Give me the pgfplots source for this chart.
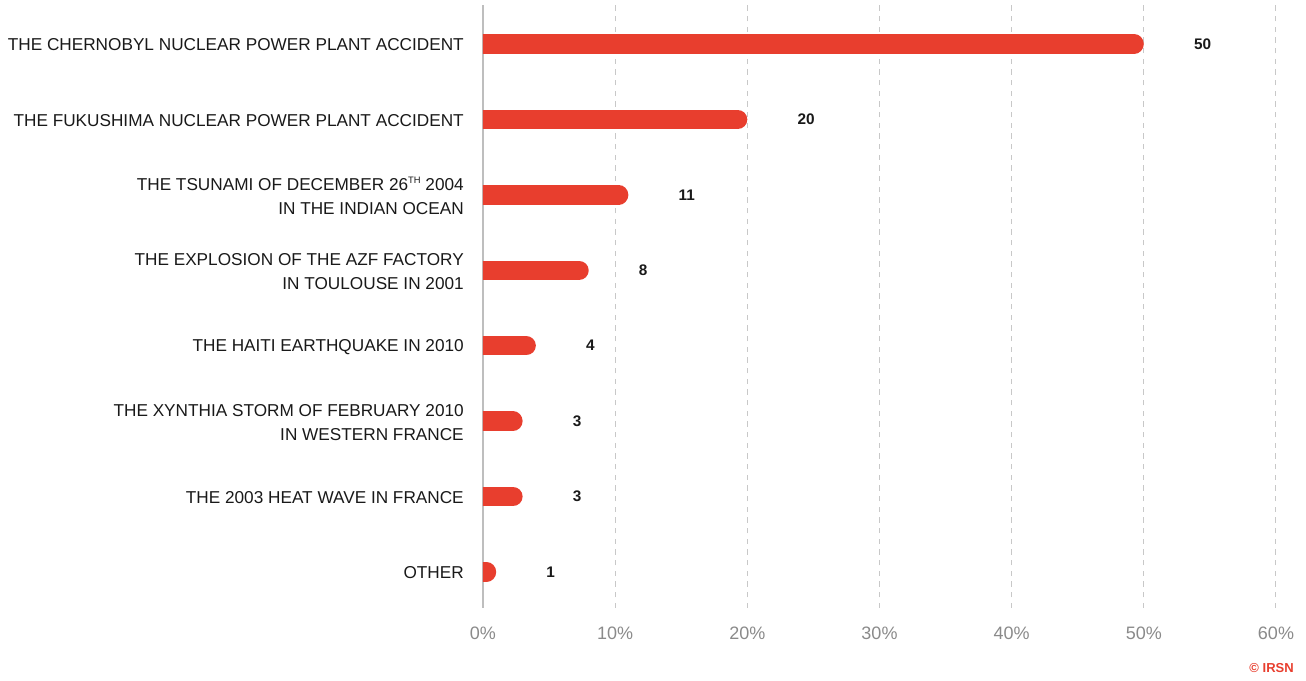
\documentclass[border=0pt]{standalone}
\usepackage{fontspec}
\setmainfont{Liberation Sans}
\usepackage{pgfplots}
\pgfplotsset{compat=1.18}
\definecolor{barred}{RGB}{232,62,46}
\definecolor{gridgray}{RGB}{200,200,200}
\definecolor{axisgray}{RGB}{190,190,190}
\definecolor{tickgray}{RGB}{138,138,138}
\definecolor{labelblack}{RGB}{25,25,25}

\pgfplotsset{
  roundbar/.style={draw=barred, line width=14.5pt, line cap=round, shorten >=7.25pt},
}

\begin{document}
\begin{tikzpicture}
\begin{axis}[
  scale only axis, width=594.75pt, height=452.25pt,
  xmin=0, xmax=60, ymin=-0.477, ymax=7.517,
  axis line style={draw=none},
  major tick length=0pt,
  xtick={10,20,30,40,50,60},
  xticklabels={10\%,20\%,30\%,40\%,50\%,60\%},
  extra x ticks={0}, extra x tick labels={0\%},
  extra x tick style={grid style={solid, draw=axisgray, line width=0.9pt}},
  xmajorgrids, grid style={draw=gridgray, line width=0.75pt, dash pattern=on 4pt off 4pt},
  xticklabel style={font=\fontsize{13.5}{16}\selectfont, text=tickgray, anchor=center, inner sep=0pt, yshift=-18.75pt},
  ytick={0,1,2,3,4,5,6,7},
  yticklabels={
    OTHER,
    THE 2003 HEAT WAVE IN FRANCE,
    THE XYNTHIA STORM OF FEBRUARY 2010\\IN WESTERN FRANCE,
    THE HAITI EARTHQUAKE IN 2010,
    THE EXPLOSION OF THE AZF FACTORY\\IN TOULOUSE IN 2001,
    THE TSUNAMI OF DECEMBER 26\raisebox{0.75ex}{\fontsize{7}{8}\selectfont TH} 2004\\IN THE INDIAN OCEAN,
    THE FUKUSHIMA NUCLEAR POWER PLANT ACCIDENT,
    THE CHERNOBYL NUCLEAR POWER PLANT ACCIDENT},
  yticklabel style={font=\fontsize{12.9}{18}\selectfont, text=labelblack, align=right, anchor=east, inner sep=0pt, xshift=-14.25pt, yshift=-0.75pt},
]
\addplot[roundbar] coordinates {(0,7) (50,7)};
\addplot[roundbar] coordinates {(0,6) (20,6)};
\addplot[roundbar] coordinates {(0,5) (11,5)};
\addplot[roundbar] coordinates {(0,4) (8,4)};
\addplot[roundbar] coordinates {(0,3) (4,3)};
\addplot[roundbar] coordinates {(0,2) (3,2)};
\addplot[roundbar] coordinates {(0,1) (3,1)};
\addplot[roundbar] coordinates {(0,0) (1,0)};
% value labels
\addplot[draw=none, mark=none, point meta=x,
  nodes near coords={\pgfmathprintnumber[assume math mode=true]{\pgfplotspointmeta}},
  every node near coord/.append style={anchor=west, inner sep=0pt, xshift=37.5pt,
    font=\fontsize{11.5}{14}\selectfont\bfseries, text=labelblack}]
  coordinates {(50,7) (20,6) (11,5) (8,4) (4,3) (3,2) (3,1) (1,0)};
\end{axis}
\node[anchor=east, inner sep=0pt, text=barred, font=\fontsize{9.75}{12}\selectfont\bfseries] at (608.25pt,-45pt) {© IRSN};
\pgfresetboundingbox
\useasboundingbox (-362.25pt,-54.75pt) rectangle (617.25pt,456pt);
\end{tikzpicture}
\end{document}
